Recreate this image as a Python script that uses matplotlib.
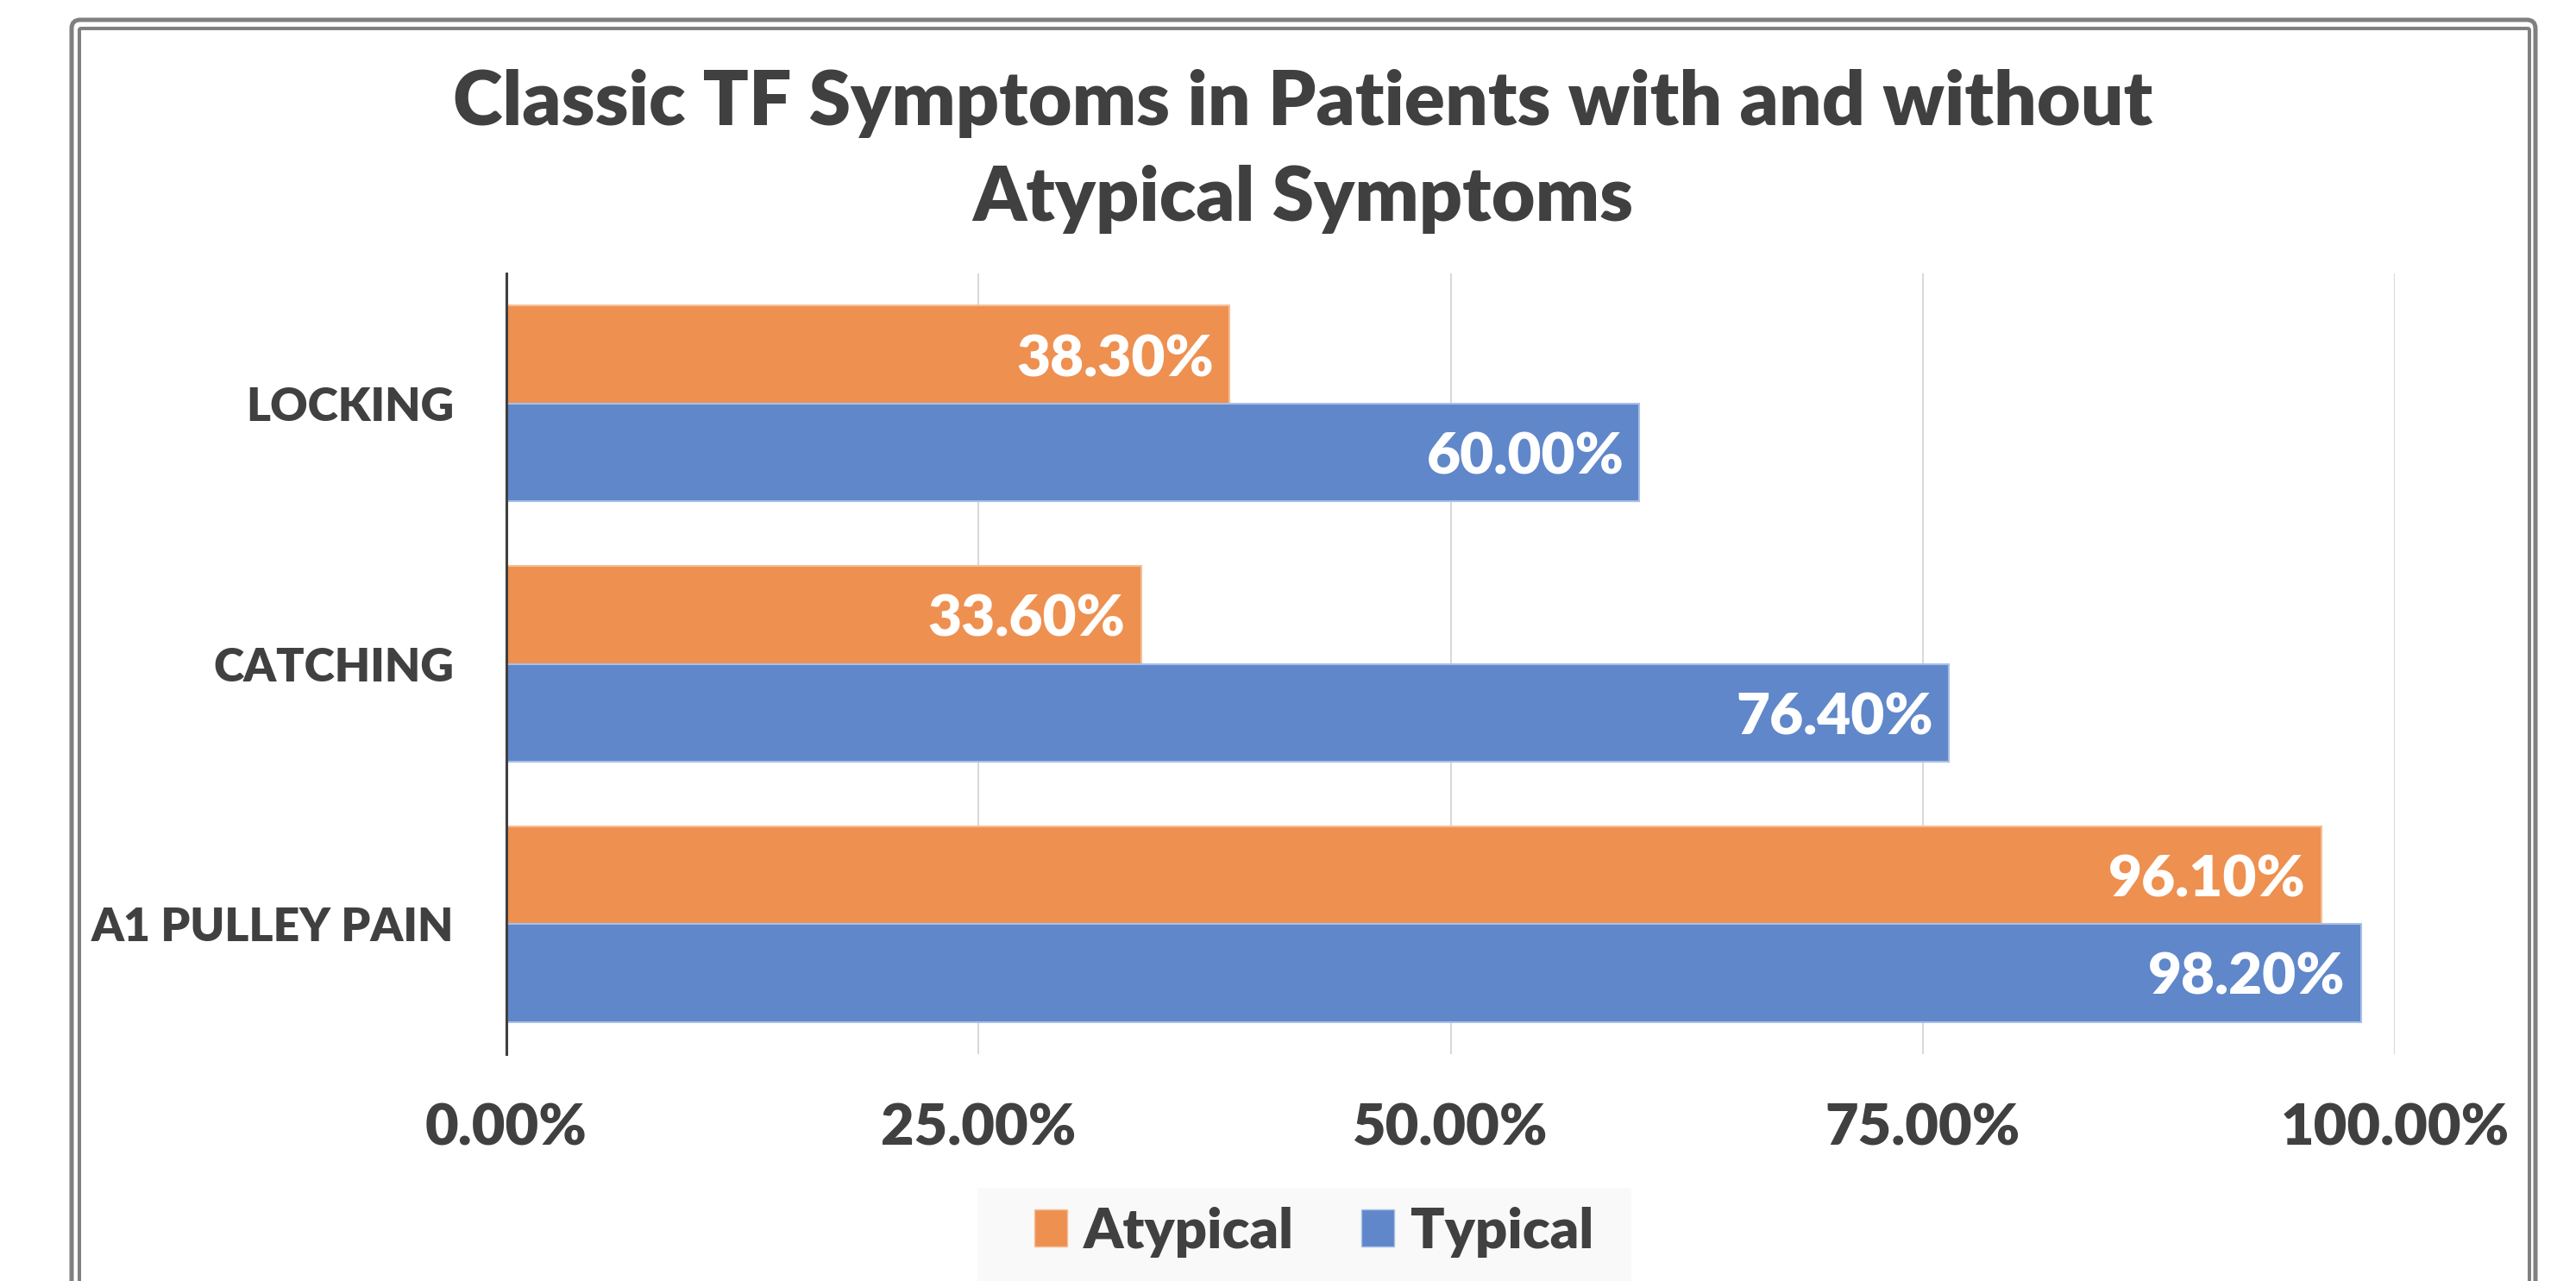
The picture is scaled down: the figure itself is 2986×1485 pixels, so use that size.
import numpy as np
import matplotlib
matplotlib.use('Agg')
import matplotlib.pyplot as plt
from matplotlib.patches import Patch, Rectangle, FancyBboxPatch
from matplotlib.transforms import IdentityTransform
from matplotlib.ticker import FuncFormatter

plt.rcParams['font.family'] = ['Lato', 'DejaVu Sans']
plt.rcParams['font.weight'] = 'bold'

# data, bottom to top
categories = ['A1 PULLEY PAIN', 'CATCHING', 'LOCKING']
atypical = [96.1, 33.6, 38.3]
typical = [98.2, 76.4, 60.0]
x_ticks = [0, 25, 50, 75, 100]
series_names = ['Atypical', 'Typical']

ORANGE = '#EE9050'
BLUE = '#5F87CA'
TEXT = '#404040'

W, H = 2986, 1485
fig = plt.figure(figsize=(W / 100, H / 100), dpi=100)
fig.patch.set_facecolor('white')

# double grey frame round the chart (bottom runs off the picture)
outer = FancyBboxPatch((83, -60), 2939 - 83, (H - 23) + 60,
                       boxstyle='round,pad=0,rounding_size=10',
                       transform=IdentityTransform(), fill=False,
                       edgecolor='#808080', linewidth=3.6)
inner = FancyBboxPatch((92, -60), 2932 - 92, (H - 33) + 60,
                       boxstyle='round,pad=0,rounding_size=2',
                       transform=IdentityTransform(), fill=False,
                       edgecolor='#808080', linewidth=2.9)
fig.patches.extend([outer, inner])

ax = fig.add_axes([587 / W, 1 - 1222 / H, (2776 - 587) / W, (1222 - 317) / H])

y = np.arange(len(categories))
h = 0.376
b1 = ax.barh(y + h / 2, atypical, height=h, color=ORANGE, edgecolor='#F5BF98', linewidth=1.5, label=series_names[0])
b2 = ax.barh(y - h / 2, typical, height=h, color=BLUE, edgecolor='#A9BFE6', linewidth=1.5, label=series_names[1])

for bars, vals in [(b1, atypical), (b2, typical)]:
    for bar, v in zip(bars, vals):
        ax.annotate(f'{v:.2f}%', xy=(v, bar.get_y() + bar.get_height() / 2),
                    xytext=(-13, 0), textcoords='offset points',
                    ha='right', va='center_baseline', color='white',
                    fontsize=48.5, fontweight='heavy')

ax.set_xlim(0, 100)
ax.set_ylim(-0.5, len(categories) - 0.5)
ax.set_xticks(x_ticks)
ax.xaxis.set_major_formatter(FuncFormatter(lambda v, p: f'{v:.2f}%'))
ax.set_yticks(y)
ax.set_yticklabels(categories)
ax.tick_params(axis='x', length=0, pad=40, labelsize=48, labelcolor=TEXT)
ax.tick_params(axis='y', length=0, pad=44, labelsize=38.5, labelcolor=TEXT)
for lbl in ax.get_xticklabels() + ax.get_yticklabels():
    lbl.set_fontweight('heavy')

ax.grid(axis='x', color='#D9D9D9', linewidth=1.5)
ax.set_axisbelow(True)
for s in ['top', 'right', 'bottom']:
    ax.spines[s].set_visible(False)
ax.spines['left'].set_color(TEXT)
ax.spines['left'].set_linewidth(2.2)

# title, two lines
fig.text(1510 / W, 1 - 145 / H, 'Classic TF Symptoms in Patients with and without',
         ha='center', va='baseline', fontsize=63, fontweight='heavy', color=TEXT)
fig.text(1510 / W, 1 - 256 / H, 'Atypical Symptoms',
         ha='center', va='baseline', fontsize=63, fontweight='heavy', color=TEXT)

# legend on a light grey strip
fig.patches.append(Rectangle((1133 / W, 0), (1891 - 1133) / W, 108 / H,
                             transform=fig.transFigure, facecolor='#F9F9F9',
                             edgecolor='none', zorder=0))
handles = [Patch(facecolor=ORANGE, edgecolor='#F5BF98', label=series_names[0]),
           Patch(facecolor=BLUE, edgecolor='#A9BFE6', label=series_names[1])]
leg = fig.legend(handles=handles, loc='center', bbox_to_anchor=(1523 / W, 1 - 1428 / H),
                 ncol=2, frameon=False, fontsize=47, handlelength=0.58, handleheight=0.62,
                 handletextpad=0.29, columnspacing=1.2, borderpad=0)
for t in leg.get_texts():
    t.set_color(TEXT)
    t.set_fontweight('heavy')

fig.savefig('out.png', dpi=100, facecolor='white')
